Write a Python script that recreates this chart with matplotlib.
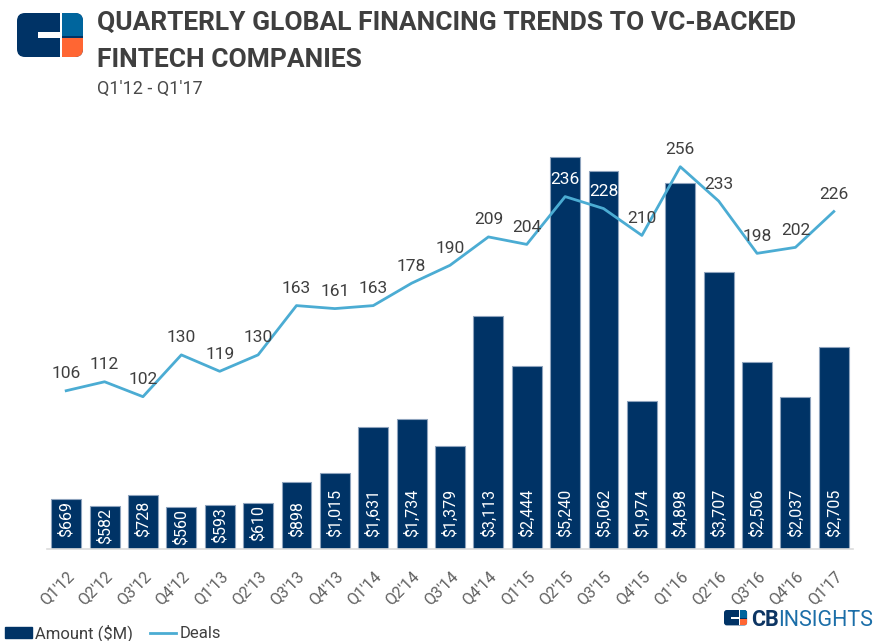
import matplotlib
matplotlib.use("Agg")
import matplotlib.pyplot as plt
from matplotlib.patches import FancyBboxPatch, Rectangle, Patch
from matplotlib.lines import Line2D

plt.rcParams['font.family'] = ['Roboto', 'DejaVu Sans']

# data
quarters = ["Q1'12", "Q2'12", "Q3'12", "Q4'12", "Q1'13", "Q2'13", "Q3'13", "Q4'13",
            "Q1'14", "Q2'14", "Q3'14", "Q4'14", "Q1'15", "Q2'15", "Q3'15", "Q4'15",
            "Q1'16", "Q2'16", "Q3'16", "Q4'16", "Q1'17"]
amounts = [669, 582, 728, 560, 593, 610, 898, 1015, 1631, 1734, 1379, 3113,
           2444, 5240, 5062, 1974, 4898, 3707, 2506, 2037, 2705]
deals = [106, 112, 102, 130, 119, 130, 163, 161, 163, 178, 190, 209,
         204, 236, 228, 210, 256, 233, 198, 202, 226]

navy = '#003366'
light_blue = '#4bacd3'
text_dark = '#3f3f3f'

W, H = 886, 641
fig = plt.figure(figsize=(W / 100, H / 100), dpi=100)

ax = fig.add_axes([47 / W, (H - 549) / H, 806 / W, 419 / H])
ax2 = ax.twinx()

x = list(range(len(quarters)))
ax.bar(x, amounts, width=0.78, color=navy, edgecolor='#8ea3bd', linewidth=0.8, zorder=2)
ax.set_xlim(-0.5, len(quarters) - 0.5)
amt_top = 5607
deal_top = 280.6
ax.set_ylim(0, amt_top)
ax2.set_ylim(0, deal_top)

bar_labels = []
for i, v in enumerate(amounts):
    t = ax.annotate(f"${v:,}", (i, 0), xytext=(0, 8.5), textcoords='offset points',
                    rotation=90, ha='center', va='bottom', color='white', fontsize=11.5, zorder=3)
    bar_labels.append(t)

ax2.plot(x, deals, color=light_blue, linewidth=2.0, zorder=3)
for i, d in enumerate(deals):
    bar_in_deals = amounts[i] * deal_top / amt_top
    col = 'white' if bar_in_deals > d + 20 else text_dark
    ax2.annotate(str(d), (i, d), xytext=(0, 9), textcoords='offset points',
                 ha='center', va='baseline', color=col, fontsize=12.5, zorder=4)

for a in (ax, ax2):
    for s in ('top', 'right', 'left'):
        a.spines[s].set_visible(False)
    a.set_yticks([])
ax2.spines['bottom'].set_visible(False)
ax.spines['bottom'].set_color('#dcdcdc')
ax.spines['bottom'].set_linewidth(1.2)

ax.set_xticks(x)
ax.set_xticklabels(quarters, rotation=45, ha='right', rotation_mode='anchor',
                   fontsize=11.5, color='#606060')
ax.tick_params(axis='x', length=0, pad=14)

# short bars: label hangs from the bar top instead
fig.canvas.draw()
renderer = fig.canvas.get_renderer()
for i, t in enumerate(bar_labels):
    ext = t.get_window_extent(renderer)
    top_px = ax.transData.transform((i, amounts[i]))[1]
    if ext.y1 > top_px - 2:
        t.xy = (i, amounts[i])
        t.xyann = (0, -1.5)
        t.set_va('top')

# titles
fig.text(97 / W, 1 - 30 / H, "QUARTERLY GLOBAL FINANCING TRENDS TO VC-BACKED",
         fontweight='bold', fontsize=19, color=text_dark, va='baseline')
fig.text(97 / W, 1 - 67 / H, "FINTECH COMPANIES",
         fontweight='bold', fontsize=19, color=text_dark, va='baseline')
fig.text(97 / W, 1 - 94 / H, "Q1'12 - Q1'17", fontsize=13,
         color='#4a4a4a', va='baseline')

# legend
handles = [Patch(facecolor=navy, edgecolor=navy),
           Line2D([], [], color=light_blue, linewidth=2)]
fig.legend(handles, ['Amount ($M)', 'Deals'], loc='lower left', bbox_to_anchor=(5 / W, -1 / H),
           ncol=2, frameon=False, fontsize=12, handlelength=1.6, handleheight=0.6,
           handletextpad=0.2, columnspacing=1.0, borderpad=0, borderaxespad=0,
           labelcolor=text_dark)

# logos drawn in pixel coordinates
lax = fig.add_axes([0, 0, 1, 1], zorder=5)
lax.set_xlim(0, W)
lax.set_ylim(H, 0)
lax.axis('off')


def draw_logo(x0, y0, s):
    w, h = 66 * s, 44 * s
    base = FancyBboxPatch((x0, y0), w, h, boxstyle=f"round,pad=0,rounding_size={8 * s}",
                          facecolor=navy, edgecolor='none')
    lax.add_patch(base)
    parts = [
        (43 * s, 0, 2 * s, h, 'white'),
        (45 * s, 0, 21 * s, 22.8 * s, '#00659d'),
        (45 * s, 24.8 * s, 21 * s, 19.2 * s, '#ff6633'),
        (21 * s, 19 * s, 22 * s, 5.5 * s, 'white'),
    ]
    for px, py, pw, ph, c in parts:
        r = Rectangle((x0 + px, y0 + py), pw, ph, facecolor=c, edgecolor='none')
        lax.add_patch(r)
        r.set_clip_path(base)


draw_logo(17, 13, 1.0)
draw_logo(724, 610, 0.35)

fig.text(751 / W, 1 - 626 / H, "CB", fontsize=15.5, fontweight='bold', color='#0d3563',
         va='baseline', ha='left')
fig.text(873 / W, 1 - 626 / H, "INSIGHTS", fontsize=15.5, color='#1b6ea8',
         va='baseline', ha='right')

fig.savefig('out.png', dpi=100)
